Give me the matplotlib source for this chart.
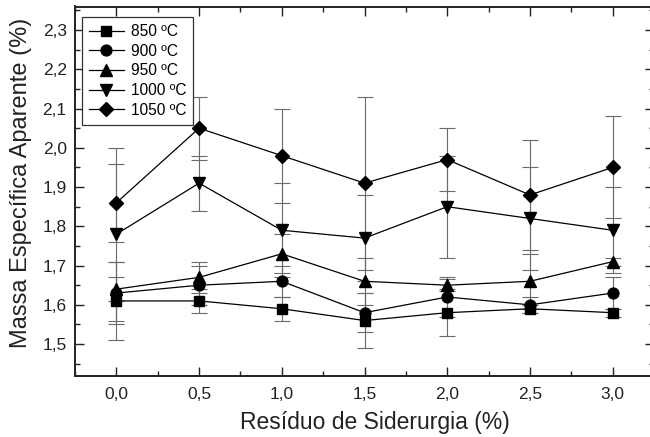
import matplotlib
matplotlib.use("Agg")
import matplotlib.pyplot as plt
from matplotlib.ticker import MultipleLocator, FuncFormatter

plt.rcParams['font.family'] = ['Liberation Sans', 'DejaVu Sans']

residuo = [0.0, 0.5, 1.0, 1.5, 2.0, 2.5, 3.0]
series_labels = ['850 ºC', '900 ºC', '950 ºC', '1000 ºC', '1050 ºC']
v850 = [1.61, 1.61, 1.59, 1.56, 1.58, 1.59, 1.58]
v900 = [1.63, 1.65, 1.66, 1.58, 1.62, 1.60, 1.63]
v950 = [1.64, 1.67, 1.73, 1.66, 1.65, 1.66, 1.71]
v1000 = [1.78, 1.91, 1.79, 1.77, 1.85, 1.82, 1.79]
v1050 = [1.86, 2.05, 1.98, 1.91, 1.97, 1.88, 1.95]
e850 = [0.10, 0.03, 0.03, 0.07, 0.06, 0.01, 0.01]
e900 = [0.08, 0.05, 0.04, 0.05, 0.05, 0.02, 0.04]
e950 = [0.03, 0.04, 0.05, 0.06, 0.015, 0.07, 0.01]
e1000 = [0.22, 0.07, 0.12, 0.11, 0.13, 0.13, 0.11]
e1050 = [0.10, 0.08, 0.12, 0.22, 0.08, 0.14, 0.13]
markers = ['s', 'o', '^', 'v', 'D']
msizes = [6.8, 7.8, 8.3, 8.3, 7.3]

values = [v850, v900, v950, v1000, v1050]
errors = [e850, e900, e950, e1000, e1050]

W, H = 650, 437
fig = plt.figure(figsize=(W / 100, H / 100), dpi=100)
ax = fig.add_axes([75 / W, (H - 375.5) / H, 579 / W, 369 / H])

for vals, errs, mk, ms, lab in zip(values, errors, markers, msizes, series_labels):
    ax.errorbar(residuo, vals, yerr=errs, fmt='none', ecolor='#6a6a6a',
                elinewidth=0.8, capsize=6, capthick=0.8, zorder=1)
    ax.plot(residuo, vals, color='black', lw=0.9, marker=mk, markersize=ms,
            markerfacecolor='black', markeredgecolor='black', label=lab, zorder=3)

ax.set_xlim(-0.25, 3.25)
ax.set_ylim(1.42, 2.36)
ax.xaxis.set_major_locator(MultipleLocator(0.5))
ax.xaxis.set_minor_locator(MultipleLocator(0.25))
ax.yaxis.set_major_locator(MultipleLocator(0.1))
ax.yaxis.set_minor_locator(MultipleLocator(0.05))
comma = FuncFormatter(lambda v, p: f"{v:.1f}".replace('.', ','))
ax.xaxis.set_major_formatter(comma)
ax.yaxis.set_major_formatter(comma)

ax.tick_params(which='both', direction='in', top=True, right=True, color='#222222')
ax.tick_params(which='major', length=6.5, width=1.0, labelsize=12.5, pad=6, labelcolor='#222222')
ax.tick_params(which='minor', length=3.5, width=1.0)
ax.tick_params(axis='x', which='major', pad=8.5)
for sp in ax.spines.values():
    sp.set_linewidth(1.4)
    sp.set_color('#222222')

ax.set_xlabel('Resíduo de Siderurgia (%)', fontsize=16.5, color='#222222')
ax.set_ylabel('Massa Específica Aparente (%)', fontsize=17, color='#222222')
ax.xaxis.set_label_coords((375 - 75) / 579, -36 / 369)
ax.yaxis.set_label_coords(-43 / 579, (375.5 - 183) / 369)

leg = ax.legend(loc='upper left', bbox_to_anchor=(0.012, 0.9715), borderaxespad=0,
                fontsize=11.2, handlelength=2.25, handletextpad=0.45,
                labelspacing=0.3, borderpad=0.45, fancybox=False, framealpha=1)
leg.get_frame().set_edgecolor('#333333')
leg.get_frame().set_linewidth(0.9)

fig.savefig('out.png', dpi=100)
